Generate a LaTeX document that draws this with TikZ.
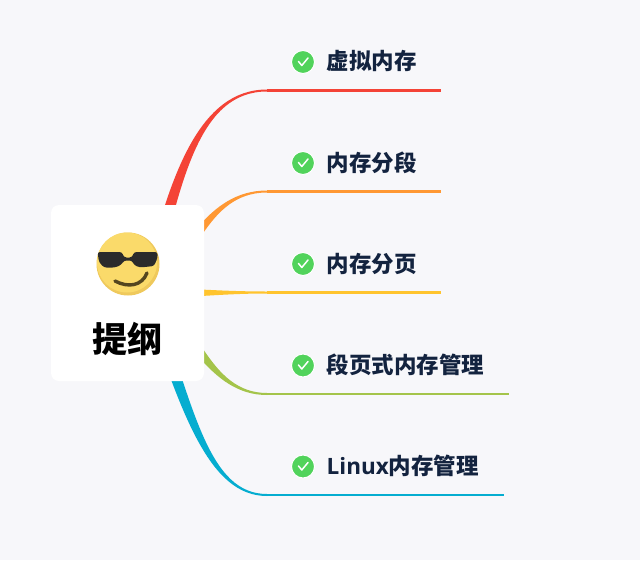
\documentclass[tikz,border=0pt]{standalone}
\usepackage{fontspec}
\newfontfamily\cjkfont{Noto Sans CJK SC}
\newfontfamily\latfont{Open Sans}
\definecolor{bgc}{HTML}{F7F7FA}
\definecolor{redc}{HTML}{F44336}
\definecolor{orgc}{HTML}{FF9833}
\definecolor{yelc}{HTML}{FFC42E}
\definecolor{grnc}{HTML}{A4C44A}
\definecolor{bluc}{HTML}{05ADD0}
\definecolor{chkc}{HTML}{51D35B}
\definecolor{txtc}{HTML}{13233F}
\definecolor{facec}{HTML}{FADA6A}
\definecolor{faced}{HTML}{EFC95C}
\definecolor{shadec}{HTML}{2B2B2B}
\definecolor{smilec}{HTML}{54461F}
\tikzset{
  rootbox/.style={fill=white,rounded corners=8pt,minimum width=153pt,minimum height=176pt,inner sep=0pt},
  roottext/.style={inner sep=0pt,font=\cjkfont\bfseries\fontsize{35}{35}\selectfont,text=black},
  topic/.style={anchor=west,inner sep=0pt,text=txtc,font=\cjkfont\bfseries\fontsize{22.5}{23}\selectfont},
  tick/.style={circle,fill=chkc,draw=white,line width=1pt,minimum size=23pt,inner sep=0pt},
  rule/.style={line width=2.3pt},
  tickmark/.style={draw=white,line width=1.5pt,line cap=round,line join=round}
}
\newcommand{\taper}[6]{% colour, end, c1, c2, half-width x, half-width y
  \fill[#1] ([xshift=#5pt,yshift=#6pt]rootc) .. controls ([xshift=#5pt,yshift=#6pt]#3) and ([yshift=1pt]#4) .. ([yshift=1pt]#2)
    -- ([yshift=-1pt]#2) .. controls ([yshift=-1pt]#4) and ([xshift=-#5pt,yshift=-#6pt]#3) .. ([xshift=-#5pt,yshift=-#6pt]rootc) -- cycle;
}
\newcommand{\tickicon}[2]{% name, position
  \node[tick] (#1) at (#2) {};
  \draw[tickmark] ([xshift=-4.5pt,yshift=0.5pt]#1.center) -- ([xshift=-1.2pt,yshift=-3.5pt]#1.center) -- ([xshift=5pt,yshift=4pt]#1.center);
}
\begin{document}
\begin{tikzpicture}[x=1pt,y=-1pt]
\useasboundingbox (0,0) rectangle (640,560);
\fill[bgc] (0,0) rectangle (640,560);
\coordinate (rootc) at (148,293);
\coordinate (e1) at (267,90.5);  \coordinate (f1) at (441,90.5);
\coordinate (e2) at (267,191.5); \coordinate (f2) at (441,191.5);
\coordinate (e3) at (267,292.5); \coordinate (f3) at (441,292.5);
\coordinate (e4) at (267,394);   \coordinate (f4) at (509,394);
\coordinate (e5) at (267,495);   \coordinate (f5) at (504,495);
\coordinate (a1) at (175,175); \coordinate (b1) at (200,90.5);
\coordinate (a2) at (190,262); \coordinate (b2) at (205,191.5);
\coordinate (a3) at (190,293); \coordinate (b3) at (220,292.5);
\coordinate (a4) at (192,322); \coordinate (b4) at (208,394);
\coordinate (a5) at (188,415); \coordinate (b5) at (210,495);
\taper{redc}{e1}{a1}{b1}{-6}{2}
\taper{orgc}{e2}{a2}{b2}{-5.3}{5.3}
\taper{yelc}{e3}{a3}{b3}{0}{5}
\taper{grnc}{e4}{a4}{b4}{5.3}{5.3}
\taper{bluc}{e5}{a5}{b5}{6}{2}
\draw[rule,redc] (e1) -- (f1);
\draw[rule,orgc] (e2) -- (f2);
\draw[rule,yelc] (e3) -- (f3);
\draw[rule,grnc] (e4) -- (f4);
\draw[rule,bluc] (e5) -- (f5);
\node[rootbox] (root) at (127.5,293) {};
% emoji
\fill[faced] (128,264) circle (31.5);
\fill[facec] (127,262.5) circle (30);
\fill[shadec,rounded corners=2.5pt] (97.5,252) -- (122,252) -- (124,257.5) -- (132,257.5) -- (134,252) -- (157.5,252) -- (157.5,258) -- (154,266) -- (140,267.5) -- (134,265) -- (132,260.5) -- (124,260.5) -- (121,265) -- (115,267.5) -- (104,267.5) -- (99,262) -- cycle;
\draw[smilec,line width=3.4pt,line cap=round] (115,281) .. controls (128,288) and (142,286) .. (147,273);
\node[roottext] (rt) at (127.5,339) {提纲};
\tickicon{i1}{303,62}
\tickicon{i2}{303,163}
\tickicon{i3}{303,264}
\tickicon{i4}{303,365.5}
\tickicon{i5}{303,466.5}
\node[topic] (t1) at (326.5,61) {虚拟内存};
\node[topic] (t2) at (326.5,163) {内存分段};
\node[topic] (t3) at (326.5,264) {内存分页};
\node[topic] (t4) at (326.5,365) {段页式内存管理};
\node[topic] (t5) at (326.5,466) {{\latfont\bfseries\fontsize{22.5}{23}\selectfont Linux}内存管理};
\end{tikzpicture}
\end{document}
